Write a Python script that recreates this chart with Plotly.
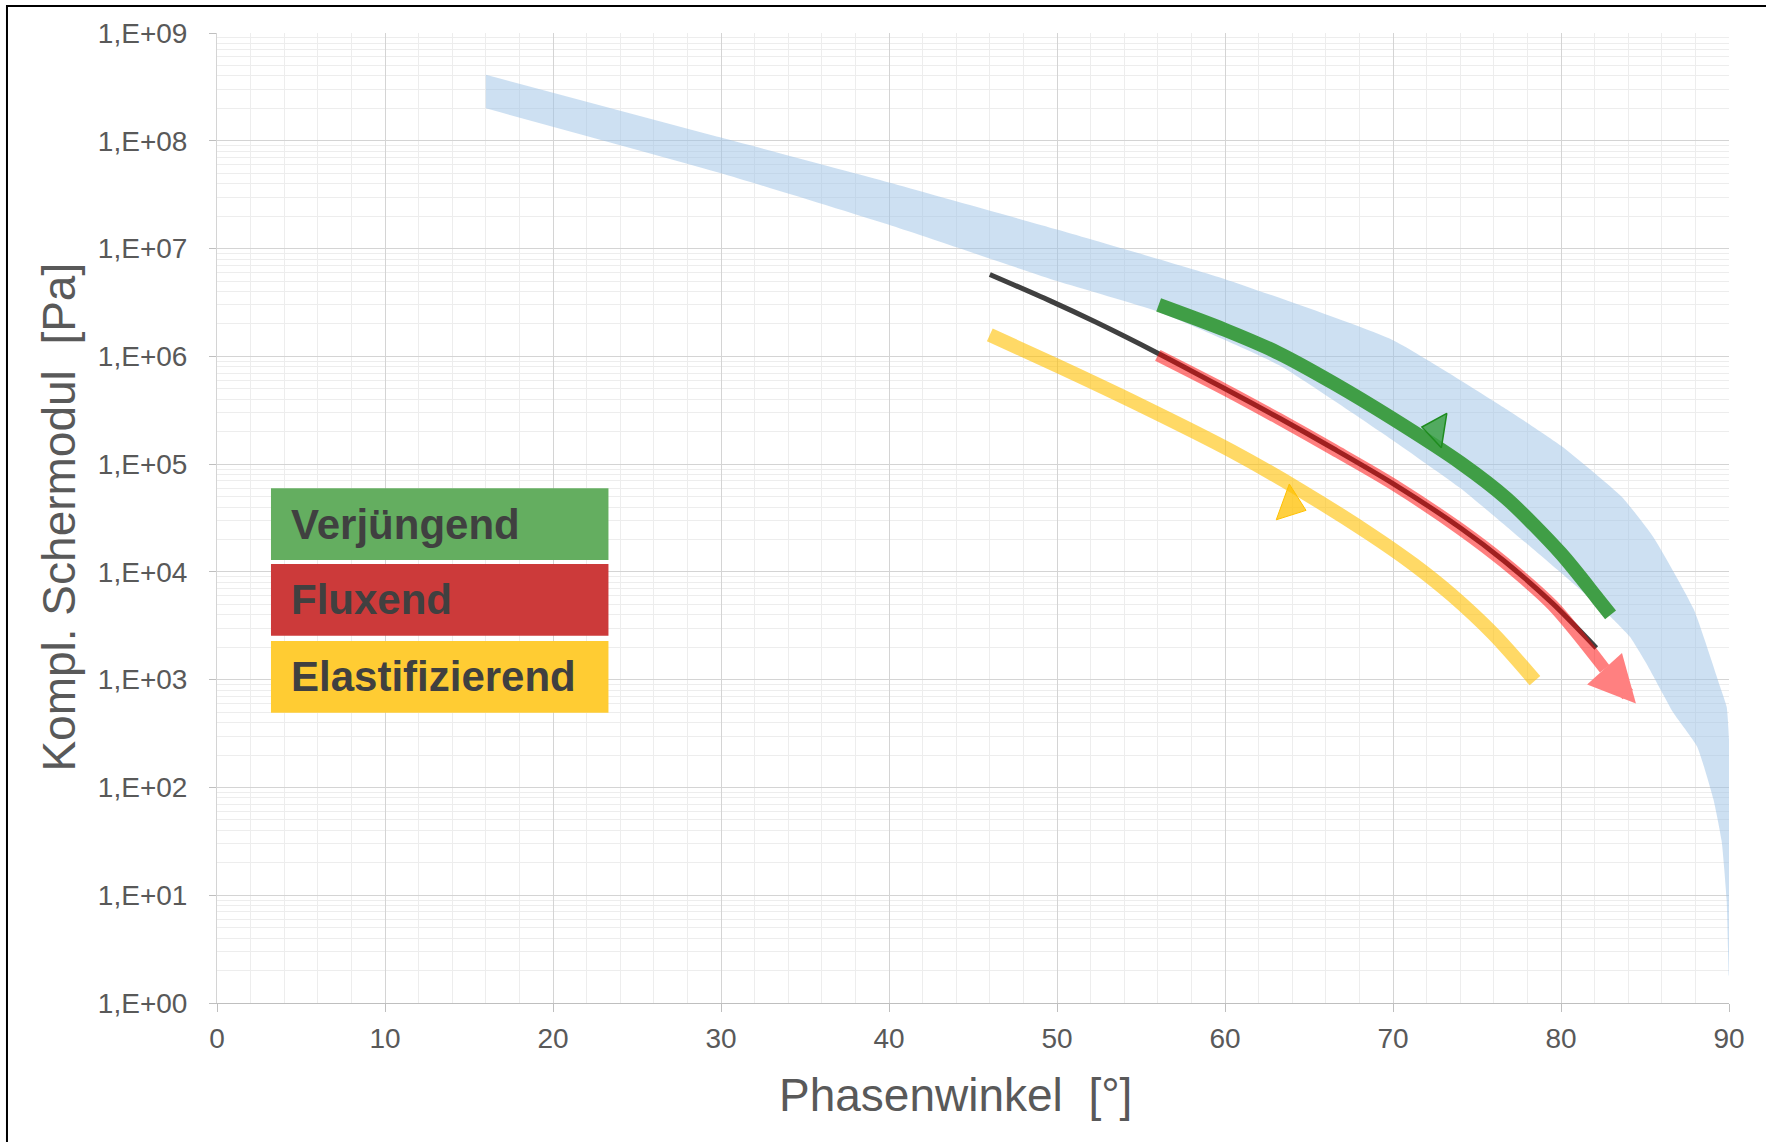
import numpy as np
import plotly.graph_objects as go

# ---------------- data ----------------
# light-blue band: upper and lower boundary  (x = phase angle [deg], y = |G*| [Pa])
band_upper_x = [16, 30, 40, 50, 60, 70, 76.8, 80, 83.6, 85.5, 87.9, 89.46, 89.86, 90]
band_upper_y = [4.1e8, 1.07e8, 4.1e7, 1.5e7, 5.2e6, 1.41e6, 3.2e5, 1.48e5,
                5.0e4, 2.1e4, 4.5e3, 8.7e2, 5.6e2, 2.8e2]
band_lower_x = [16, 30, 40, 50, 56, 63.2, 70, 74, 76.8, 80, 82.9, 84.1, 85.1, 86.7,
                88.1, 89.07, 89.56, 89.86, 90]
band_lower_y = [2.0e8, 5.0e7, 1.66e7, 5.0e6, 2.6e6, 8.3e5, 1.66e5, 6.0e4, 2.6e4, 9.8e3,
                3.9e3, 2.5e3, 1.4e3, 4.9e2, 2.4e2, 78, 32, 9.1, 1.8]

# grey reference curve
black_x = [46, 49.6, 52.3, 56, 60, 63.2, 66.5, 70, 74, 76.6, 79.5, 82.1]
black_y = [5.75e6, 3.27e6, 2.08e6, 1.07e6, 5.0e5, 2.69e5, 1.38e5, 6.6e4, 2.57e4,
           1.27e4, 5.1e3, 1.97e3]

# red (Fluxend) curve + arrow tip
red_x = [56, 60, 63.2, 66.5, 70, 74, 76.6, 79.5, 82.6]
red_y = [1.02e6, 4.9e5, 2.63e5, 1.35e5, 6.5e4, 2.5e4, 1.23e4, 4.9e3, 1.26e3]
red_tip_x = 84.46
red_tip_y = 6.0e2

# green (Verjüngend) curve
green_x = [56.05, 60, 63.2, 66.5, 70, 74.05, 76.76, 80, 82.2, 82.95]
green_y = [3.0e6, 1.76e6, 1.07e6, 5.6e5, 2.63e5, 1.02e5, 4.8e4, 1.48e4, 5.6e3, 4.0e3]

# yellow (Elastifizierend) curve
yellow_x = [46, 50, 55, 60.4, 64.5, 68.6, 71.2, 73.5, 76, 78.45]
yellow_y = [1.58e6, 8.2e5, 3.5e5, 1.32e5, 5.7e4, 2.26e4, 1.18e4, 6.1e3, 2.63e3, 9.8e2]

# direction markers on the curves
green_marker_x = [72.6]
green_marker_y = [2.1e5]
yellow_marker_x = [63.9]
yellow_marker_y = [4.2e4]

# legend boxes
legend_labels = ["Verjüngend", "Fluxend", "Elastifizierend"]
legend_colors = ["rgb(100,174,96)", "rgb(204,58,58)", "rgb(255,204,51)"]

# axes
x_tickvals = [0, 10, 20, 30, 40, 50, 60, 70, 80, 90]
x_ticktext = ["0", "10", "20", "30", "40", "50", "60", "70", "80", "90"]
y_tickvals = [1e0, 1e1, 1e2, 1e3, 1e4, 1e5, 1e6, 1e7, 1e8, 1e9]
y_ticktext = ["1,E+00", "1,E+01", "1,E+02", "1,E+03", "1,E+04",
              "1,E+05", "1,E+06", "1,E+07", "1,E+08", "1,E+09"]
y_minor_vals = [k * 10 ** n for n in range(0, 9) for k in range(2, 10)]

x_title = "Phasenwinkel\u00a0 [°]"
y_title = "Kompl. Schermodul\u00a0 [Pa]"

# ---------------- figure ----------------
FONT = "Liberation Sans, Arial, Helvetica, sans-serif"
GREY_TXT = "#595959"

fig = go.Figure()

band_x = band_upper_x + band_lower_x[::-1]
band_y = band_upper_y + band_lower_y[::-1]
fig.add_trace(go.Scatter(x=band_x, y=band_y, mode="lines", fill="toself",
                         fillcolor="rgba(155,194,230,0.5)",
                         line=dict(width=0, shape="spline", smoothing=0.45),
                         hoverinfo="skip", showlegend=False))

fig.add_trace(go.Scatter(x=black_x, y=black_y, mode="lines",
                         line=dict(color="#404040", width=5, shape="spline", smoothing=0.8),
                         showlegend=False))

fig.add_trace(go.Scatter(x=green_x, y=green_y, mode="lines",
                         line=dict(color="rgb(64,158,70)", width=14, shape="spline", smoothing=0.8),
                         showlegend=False))

fig.add_trace(go.Scatter(x=red_x, y=red_y, mode="lines",
                         line=dict(color="rgba(255,0,0,0.5)", width=12, shape="spline", smoothing=0.8),
                         showlegend=False))

fig.add_trace(go.Scatter(x=yellow_x, y=yellow_y, mode="lines",
                         line=dict(color="rgba(255,192,0,0.6)", width=14, shape="spline", smoothing=0.8),
                         showlegend=False))

fig.add_trace(go.Scatter(x=green_marker_x, y=green_marker_y, mode="markers",
                         marker=dict(symbol="triangle-left", size=30, angle=9,
                                     color="rgba(60,160,70,0.85)",
                                     line=dict(color="#1E8C1E", width=1.5)),
                         showlegend=False))

fig.add_trace(go.Scatter(x=yellow_marker_x, y=yellow_marker_y, mode="markers",
                         marker=dict(symbol="triangle-right", size=33, angle=20,
                                     color="rgba(255,192,0,0.75)",
                                     line=dict(color="rgba(255,192,0,1)", width=1)),
                         showlegend=False))

# red arrow head (annotation arrow from the end of the red curve to the tip)
fig.add_annotation(x=red_tip_x, y=np.log10(red_tip_y), xref="x", yref="y",
                   ax=red_x[-1], ay=np.log10(red_y[-1]), axref="x", ayref="y",
                   text="", showarrow=True, arrowhead=2, arrowsize=0.67,
                   arrowwidth=14, arrowcolor="#FF8080", standoff=0)

# legend boxes
box_left, box_right = 0.0357, 0.2589
box_rows = [(0.4567, 0.5306), (0.3787, 0.4526), (0.2993, 0.3732)]
for label, col, (y0, y1) in zip(legend_labels, legend_colors, box_rows):
    fig.add_shape(type="rect", xref="paper", yref="paper",
                  x0=box_left, x1=box_right, y0=y0, y1=y1,
                  fillcolor=col, line=dict(width=0), layer="above")
    fig.add_annotation(xref="paper", yref="paper", x=0.0475, y=(y0 + y1) / 2,
                       xanchor="left", yanchor="middle", showarrow=False,
                       text="<b>" + label + "</b>",
                       font=dict(family=FONT, size=42, color="#404040"))

# axis titles
fig.add_annotation(xref="paper", yref="paper", x=0.4884, y=-0.0948,
                   xanchor="center", yanchor="middle", showarrow=False,
                   text=x_title, font=dict(family=FONT, size=46, color=GREY_TXT))
fig.add_annotation(xref="paper", yref="paper", x=-0.1048, y=0.501,
                   xanchor="center", yanchor="middle", showarrow=False, textangle=-90,
                   text=y_title, font=dict(family=FONT, size=46, color=GREY_TXT))

# outer black frame
fig.add_shape(type="rect", xref="paper", yref="paper",
              x0=-0.1389, x1=1.03, y0=-0.16, y1=1.0278,
              line=dict(color="black", width=2), fillcolor="rgba(0,0,0,0)", layer="above")

fig.update_layout(
    width=1766, height=1142, autosize=False,
    margin=dict(l=217, r=37, t=33, b=139),
    paper_bgcolor="white", plot_bgcolor="white",
    font=dict(family=FONT, color=GREY_TXT),
    showlegend=False,
)

fig.update_xaxes(
    range=[0, 90], tickmode="array", tickvals=x_tickvals, ticktext=x_ticktext,
    showgrid=True, gridcolor="#D4D4D4", gridwidth=1,
    minor=dict(dtick=2, showgrid=True, gridcolor="#EDEDED", gridwidth=1),
    showline=True, linecolor="#BFBFBF", linewidth=1,
    ticks="outside", ticklen=8, tickcolor="#BFBFBF",
    tickfont=dict(family=FONT, size=28, color=GREY_TXT),
    ticklabelstandoff=2, zeroline=False,
)
fig.update_yaxes(
    type="log", range=[0, 9], tickmode="array", tickvals=y_tickvals, ticktext=y_ticktext,
    showgrid=True, gridcolor="#D4D4D4", gridwidth=1,
    minor=dict(tickmode="array", tickvals=y_minor_vals, showgrid=True,
               gridcolor="#EDEDED", gridwidth=1),
    showline=True, linecolor="#D4D4D4", linewidth=1,
    ticks="outside", ticklen=7, tickcolor="#BFBFBF",
    tickfont=dict(family=FONT, size=28, color=GREY_TXT),
    ticklabelstandoff=16, zeroline=False,
)

fig.write_html("out.html")
